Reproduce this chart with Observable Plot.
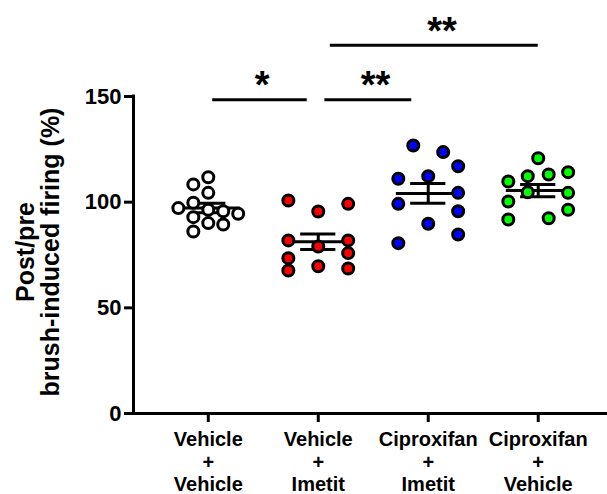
<!DOCTYPE html>
<html><head><meta charset="utf-8">
<script src="https://cdn.jsdelivr.net/npm/d3@7"></script>
<script src="https://cdn.jsdelivr.net/npm/@observablehq/plot@0.6"></script>
<style>body{margin:0;background:#fff} svg{font-family:"Liberation Sans",Arial,sans-serif}</style>
</head><body><div id="chart"></div>
<script>
// Categories (x tick labels)
const groups = ["Vehicle\n+\nVehicle", "Vehicle\n+\nImetit", "Ciproxifan\n+\nImetit", "Ciproxifan\n+\nVehicle"];
const fills = ["#ffffff", "#ff0000", "#0000ff", "#00ff00"];
const yTicks = [0, 50, 100, 150];

// Individual values (%) and their scatter column within each group
const vehVeh    = [111.8, 108.4, 104.4, 97.2, 99.7, 96.4, 95.7, 94.5, 92.9, 90.1, 89.4, 86.1];
const vehVehCol = [0, -1, 0, -2, -1, 0, 1, 2, -1, 0, 1, -1];
const vehImt    = [100.8, 95.6, 99.2, 81.9, 79.0, 81.9, 73.5, 75.9, 67.7, 69.7, 68.6];
const vehImtCol = [-2, 0, 2, -2, 0, 2, -2, 2, -2, 0, 2];
const cipImt    = [126.8, 123.7, 117.0, 111.1, 112.3, 104.4, 99.2, 95.7, 89.8, 84.7, 80.6];
const cipImtCol = [-1, 1, 2, -2, 0, 2, -2, 2, 0, 2, -2];
const cipVeh    = [120.8, 109.8, 112.3, 113.1, 114.2, 104.7, 104.4, 100.3, 96.4, 91.8, 92.4];
const cipVehCol = [0, -2, -0.7, 0.7, 2, -0.7, 2, -2, 2, -2, 0.7];

// Significance annotations (x in group-index units, y in %)
const sigLabels = ["*", "**", "**"];
const sigFrom   = [0.04, 1.06, 1.11];
const sigTo     = [0.90, 1.85, 3.00];
const sigTextAt = [0.49, 1.52, 2.125];
const sigLevel  = [148.5, 148.5, 174.2];

const values = [vehVeh, vehImt, cipImt, cipVeh];
const cols = [vehVehCol, vehImtCol, cipImtCol, cipVehCol];
const COL = 0.136;

const points = [];
values.forEach((arr, g) => arr.forEach((v, k) => points.push({g, v, col: cols[g][k]})));
const stats = values.map((arr, i) => {
  const mean = d3.mean(arr);
  const sem = d3.deviation(arr) / Math.sqrt(arr.length);
  return {i, mean, lo: mean - sem, hi: mean + sem};
});
const sig = sigLabels.map((label, k) => ({label, x1: sigFrom[k], x2: sigTo[k], xt: sigTextAt[k], y: sigLevel[k]}));

const xMin = -0.68, xMax = 3.63;

const chart = Plot.plot({
  width: 607, height: 494,
  marginLeft: 133, marginRight: 0, marginTop: 96, marginBottom: 81,
  style: {fontFamily: "'Liberation Sans', Arial, sans-serif", background: "#fff"},
  x: {type: "linear", domain: [xMin, xMax]},
  y: {domain: [0, 150]},
  color: {type: "identity"},
  marks: [
    Plot.axisY({ticks: yTicks, tickSize: 9, tickPadding: 3, fontSize: 22, fontWeight: "bold", strokeWidth: 3, label: null, tickFormat: d => String(d)}),
    Plot.axisX({ticks: [0, 1, 2, 3], tickSize: 9, tickPadding: 8, fontSize: 20, fontWeight: "bold", strokeWidth: 3, lineHeight: 1.12, label: null, tickFormat: i => groups[i]}),
    Plot.ruleY([0], {stroke: "black", strokeWidth: 3}),
    Plot.ruleX([xMin], {y1: 0, y2: 150, stroke: "black", strokeWidth: 3, strokeLinecap: "square"}),
    Plot.text(["Post/pre\nbrush-induced firing (%)"], {frameAnchor: "left", dx: -95, dy: -3, rotate: -90, fontSize: 25, fontWeight: "bold", lineHeight: 1.0, textAnchor: "middle", lineAnchor: "middle"}),
    // error bars (mean ± SEM)
    Plot.ruleX(stats, {x: "i", y1: "lo", y2: "hi", stroke: "black", strokeWidth: 3}),
    Plot.ruleY(stats, {y: "mean", x1: d => d.i - 0.29, x2: d => d.i + 0.29, stroke: "black", strokeWidth: 3}),
    Plot.ruleY(stats, {y: "lo", x1: d => d.i - 0.16, x2: d => d.i + 0.16, stroke: "black", strokeWidth: 3}),
    Plot.ruleY(stats, {y: "hi", x1: d => d.i - 0.16, x2: d => d.i + 0.16, stroke: "black", strokeWidth: 3}),
    // individual points
    Plot.dot(points, {x: d => d.g + d.col * COL, y: "v", r: 5.5, fill: d => fills[d.g], stroke: "black", strokeWidth: 3}),
    // significance bars
    Plot.ruleY(sig, {y: "y", x1: "x1", x2: "x2", stroke: "black", strokeWidth: 3}),
    Plot.text(sig, {x: "xt", y: "y", text: "label", dy: -1.5, fontSize: 38, fontWeight: "bold", lineAnchor: "bottom"})
  ]
});
document.getElementById("chart").appendChild(chart);
</script>
</body></html>
